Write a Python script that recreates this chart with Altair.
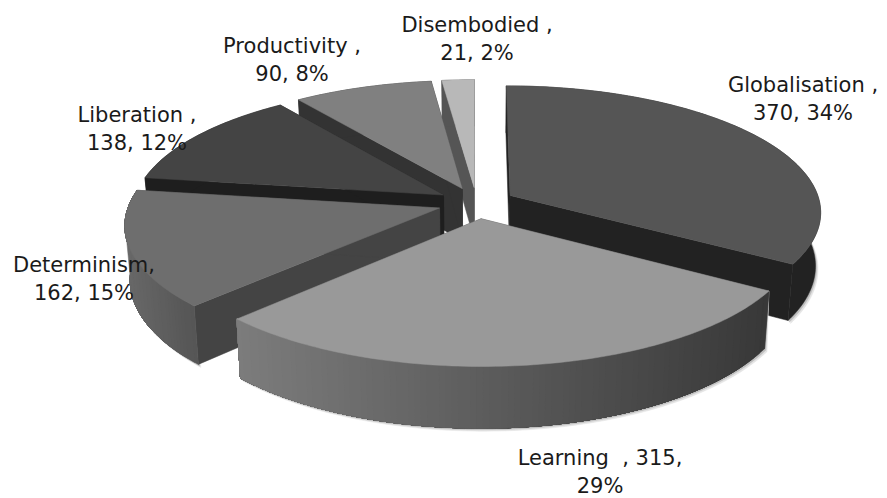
import math
import altair as alt

categories = ["Globalisation", "Learning", "Determinism", "Liberation", "Productivity", "Disembodied"]
values = [370, 315, 162, 138, 90, 21]
label_texts = [
    "Globalisation ,\n370, 34%",
    "Learning\u00a0\u00a0, 315,\n29%",
    "Determinism,\n162, 15%",
    "Liberation ,\n138, 12%",
    "Productivity ,\n90, 8%",
    "Disembodied ,\n21, 2%",
]

W, H = 871, 490
OFF = 8
CX, CY = 476.5 - OFF, 203 - OFF    # pie centre on the page
SX, SY = 310, 125                  # in-plane scales
K = 0.125                          # perspective strength
DEPTH = 53
EXPLODE = 0.125

top_fill = ["#555555", "#999999", "#6e6e6e", "#444444", "#808080", "#b8b8b8"]
cut_fill = ["#222222", "#444444", "#444444", "#1e1e1e", "#333333", "#555555"]
rim_from = [0x22, 0x7c, 0x68, 0x1e, 0x33, 0x55]
rim_to = [0x22, 0x38, 0x55, 0x1e, 0x33, 0x55]
draw_order = [5, 4, 3, 0, 2, 1]
label_x = [803, 600, 84, 137, 292, 477]
label_y = [86, 459, 266, 116, 47, 26]


def project(u, v):
    s = 1 / (1 - K * v)
    return CX + SX * u * s, CY + SY * v * s, s


def top_pt(u, v):
    x, y, _ = project(u, v)
    return [x, y]


def bot_pt(u, v):
    x, y, s = project(u, v)
    return [CX + (x - CX) * 0.985, y + DEPTH * s]


def feature(ring, fill):
    ring = [list(p) for p in ring]
    ring.append(ring[0])
    return {
        "type": "Feature",
        "geometry": {"type": "Polygon", "coordinates": [ring]},
        "properties": {"fill": fill},
    }


def grey(level):
    n = int(round(level))
    return f"#{n:02x}{n:02x}{n:02x}"


total = sum(values)
starts = []
acc = 0
for val in values:
    starts.append(acc / total * 360)
    acc += val

features = [feature([[0, 0], [W, 0], [W, H], [0, H]], "#ffffff")]

for i in draw_order:
    a0 = starts[i]
    a1 = a0 + values[i] / total * 360
    mid = math.radians((a0 + a1) / 2)
    ex, ev = EXPLODE * math.sin(mid), -EXPLODE * math.cos(mid)
    steps = max(int(a1 - a0), 2)
    angs = [math.radians(a0 + (a1 - a0) * k / steps) for k in range(steps + 1)]
    pts = [(ex + math.sin(a), ev - math.cos(a)) for a in angs]

    # soft edge under the wall
    if i in (0, 1, 2):
        lower = [bot_pt(*p) for p in pts]
        for dx, dy, col in ((2.5, 3, "#e4e4e4"), (1.2, 1.6, "#bdbdbd")):
            features.append(feature(
                [top_pt(*pts[0])] + [[x + dx, y + dy] for x, y in lower] + [top_pt(*pts[-1])],
                col))

    # the two cut faces
    for p in (pts[0], pts[-1]):
        features.append(feature(
            [top_pt(ex, ev), top_pt(*p), bot_pt(*p), bot_pt(ex, ev)], cut_fill[i]))

    # outer wall, one band per grey level, each painted over the rest of the wall
    xs = [top_pt(*p)[0] for p in pts]
    lo, hi = min(xs), max(xs)
    level_of = [
        round(rim_from[i] + (rim_to[i] - rim_from[i]) * ((xs[k] + xs[k + 1]) / 2 - lo) / (hi - lo))
        for k in range(steps)
    ]
    k = 0
    while k < steps:
        if k == 0 or level_of[k] != level_of[k - 1]:
            rest = pts[k:]
            features.append(feature(
                [top_pt(*p) for p in rest] + [bot_pt(*p) for p in reversed(rest)],
                grey(level_of[k])))
        k += 1

    # top face
    features.append(feature([top_pt(ex, ev)] + [top_pt(*p) for p in pts], top_fill[i]))

shapes = (
    alt.Chart(alt.Data(values=features))
    .mark_geoshape(strokeWidth=0.5)
    .encode(
        fill=alt.Fill("properties.fill:N", scale=None),
        stroke=alt.Stroke("properties.fill:N", scale=None),
    )
    .project(type="identity")
)

labels_data = [
    {"label": t, "px": x - OFF, "py": y - OFF}
    for t, x, y in zip(label_texts, label_x, label_y)
]
labels = (
    alt.Chart(alt.Data(values=labels_data))
    .mark_text(
        font="DejaVu Sans", fontSize=21, color="#1a1a1a", align="center",
        baseline="middle", lineBreak="\n", lineHeight=28,
    )
    .encode(
        text="label:N",
        x=alt.X("px:Q", scale=alt.Scale(domain=[0, W], range=[0, W]), axis=None),
        y=alt.Y("py:Q", scale=alt.Scale(domain=[0, H], range=[0, H]), axis=None),
    )
)

chart = (
    alt.layer(shapes, labels)
    .properties(width=W, height=H, padding=0, autosize=alt.AutoSizeParams(type="none"), background="white")
    .configure_view(stroke=None)
)

chart.save("out.html", embed_options={"renderer": "svg", "actions": False})
